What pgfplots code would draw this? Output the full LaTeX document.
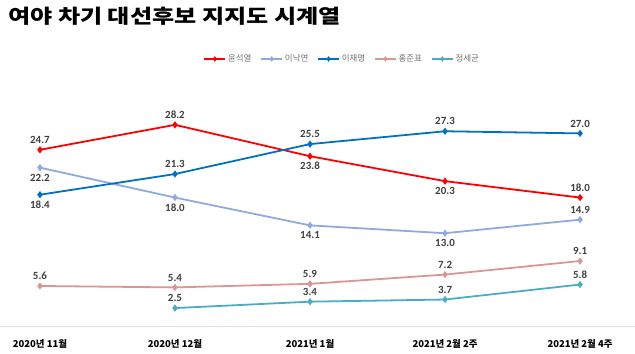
\documentclass[border=0pt]{standalone}
\usepackage{pgfplots}
\pgfplotsset{compat=1.18}
\usepackage{fontspec}
\setmainfont{Carlito}
\newfontfamily\kr{Noto Sans CJK KR}
\newfontfamily\krtitle[FakeStretch=1.24]{Noto Sans CJK KR}
\definecolor{cYoon}{HTML}{FF0000}
\definecolor{cLee}{HTML}{8FAADC}
\definecolor{cJae}{HTML}{0070C0}
\definecolor{cHong}{HTML}{DA9694}
\definecolor{cChung}{HTML}{4BACC6}
\definecolor{lab}{HTML}{404040}

\pgfplotsset{
  lab/.style={
    forget plot, draw=none, mark=none,
    nodes near coords={\pgfmathprintnumber[fixed,fixed zerofill,precision=1,assume math mode=true]{\pgfplotspointmeta}},
    every node near coord/.append style={anchor=#1, font=\bfseries\fontsize{11}{12}\selectfont, text=lab, inner sep=6bp},
  },
}

\begin{document}
\begin{tikzpicture}[x=1bp,y=1bp]
\useasboundingbox (0,0) rectangle (635,353);
\node[anchor=west,inner sep=0pt,font=\krtitle\bfseries\fontsize{19.5}{21}\selectfont] at (8,337) {여야 차기 대선후보 지지도 시계열};
\begin{axis}[
  at={(0,38)}, anchor=south west,
  scale only axis, width=635bp, height=213.9bp,
  xmin=-0.296, xmax=4.407, ymin=0, ymax=30,
  clip=false,
  axis y line=none,
  axis x line*=bottom,
  x axis line style={draw=black!12, line width=0.8pt, -},
  xtick={0,1,2,3,4},
  xticklabels={2020년 11월,2020년 12월,2021년 1월,2021년 2월 2주,2021년 2월 4주},
  xticklabel style={font=\kr\bfseries\fontsize{9.5}{10}\selectfont, yshift=-10bp},
  major tick length=0pt,
  legend style={at={(0.539,1.248)}, anchor=center, draw=none, fill=none,
    font=\kr\fontsize{8.5}{10}\selectfont, text=black!55,
    legend columns=5, /tikz/every even column/.append style={column sep=7bp},
    inner sep=0pt},
  legend image code/.code={\draw[#1, mark repeat=2, mark phase=2, line width=1.5pt, mark size=1.6pt] plot coordinates {(0bp,0bp) (10.5bp,0bp) (21bp,0bp)};},
]
% lines
\addplot[cYoon, line width=1.8pt, mark=diamond*, mark size=2.2pt] coordinates {(0,24.7) (1,28.2) (2,23.8) (3,20.3) (4,18.0)};
\addlegendentry{윤석열}
\addplot[cLee, line width=1.8pt, mark=diamond*, mark size=2.2pt] coordinates {(0,22.2) (1,18.0) (2,14.1) (3,13.0) (4,14.9)};
\addlegendentry{이낙연}
\addplot[cJae, line width=1.8pt, mark=diamond*, mark size=2.2pt] coordinates {(0,18.4) (1,21.3) (2,25.5) (3,27.3) (4,27.0)};
\addlegendentry{이재명}
\addplot[cHong, line width=1.8pt, mark=diamond*, mark size=2.2pt] coordinates {(0,5.6) (1,5.4) (2,5.9) (3,7.2) (4,9.1)};
\addlegendentry{홍준표}
\addplot[cChung, line width=1.8pt, mark=diamond*, mark size=2.2pt] coordinates {(1,2.5) (2,3.4) (3,3.7) (4,5.8)};
\addlegendentry{정세균}
% data labels
\addplot[lab=south] coordinates {(0,24.7) (1,28.2) (4,18.0)};
\addplot[lab=north] coordinates {(2,23.8) (3,20.3)};
\addplot[lab=north] coordinates {(0,22.2) (1,18.0) (2,14.1) (3,13.0)};
\addplot[lab=south] coordinates {(4,14.9)};
\addplot[lab=north] coordinates {(0,18.4)};
\addplot[lab=south] coordinates {(1,21.3) (2,25.5) (3,27.3) (4,27.0)};
\addplot[lab=south] coordinates {(0,5.6) (1,5.4) (2,5.9) (3,7.2) (4,9.1)};
\addplot[lab=south] coordinates {(1,2.5) (2,3.4) (3,3.7) (4,5.8)};
\end{axis}
\end{tikzpicture}
\end{document}
